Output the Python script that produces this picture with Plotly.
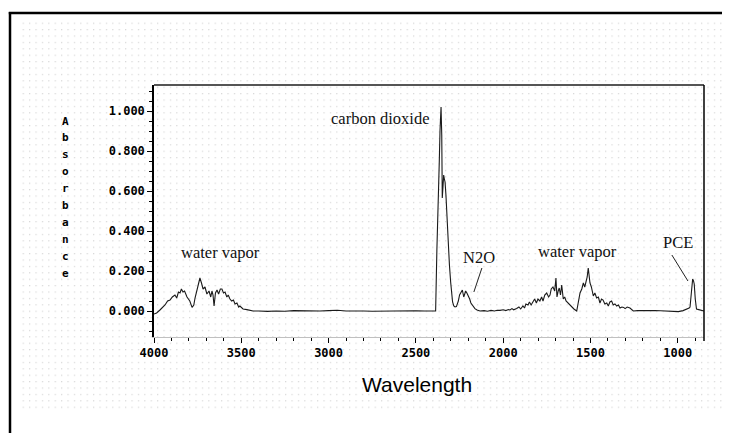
import plotly.graph_objects as go

# ---------------- data ----------------
wavenumber = [
    4000, 3985, 3966, 3950, 3937, 3922, 3908, 3895, 3880, 3870, 3860, 3851, 3843, 3834, 3825,
    3811, 3795, 3782, 3772, 3765, 3750, 3737, 3728, 3719, 3708, 3697, 3685, 3675, 3668, 3662,
    3656, 3648, 3639, 3630, 3620, 3611, 3602, 3593, 3583, 3575, 3565, 3555, 3545, 3536, 3525,
    3515, 3508, 3490, 3468, 3450, 3433, 3400, 3350, 3300, 3250, 3200, 3150, 3100, 3050, 3000,
    2950, 2900, 2850, 2800, 2750, 2700, 2650, 2600, 2550, 2500, 2450, 2400, 2387, 2380, 2372,
    2366, 2362, 2356, 2352, 2349, 2345, 2341, 2337, 2333, 2328, 2322, 2315, 2308, 2301, 2295,
    2290, 2283, 2276, 2268, 2262, 2257, 2250, 2243, 2234, 2226, 2220, 2215, 2208, 2200, 2192,
    2185, 2175, 2162, 2150, 2133, 2110, 2090, 2070, 2050, 2035, 2018, 2000, 1985, 1970, 1961,
    1950, 1940, 1923, 1910, 1900, 1887, 1878, 1870, 1858, 1850, 1840, 1829, 1820, 1810, 1801,
    1790, 1780, 1772, 1762, 1751, 1740, 1732, 1725, 1715, 1705, 1698, 1692, 1685, 1679, 1672,
    1665, 1656, 1648, 1640, 1630, 1618, 1605, 1595, 1579, 1570, 1560, 1550, 1541, 1533, 1526,
    1519, 1513, 1508, 1503, 1495, 1490, 1484, 1475, 1465, 1455, 1446, 1437, 1428, 1418, 1407,
    1398, 1389, 1379, 1370, 1360, 1350, 1340, 1331, 1320, 1310, 1302, 1290, 1274, 1264, 1255,
    1230, 1200, 1160, 1130, 1100, 1064, 1030, 997, 970, 949, 935, 930, 922, 915, 910,
    906, 900, 893, 880, 865, 850,
]
absorbance = [
    -0.015, -0.010, 0.005, 0.020, 0.030, 0.050, 0.055, 0.070, 0.080, 0.065, 0.095, 0.090, 0.110, 0.095, 0.100,
    0.070, 0.050, 0.018, 0.030, 0.065, 0.120, 0.165, 0.140, 0.110, 0.120, 0.085, 0.100, 0.070, 0.100, 0.080,
    0.025, 0.090, 0.105, 0.085, 0.110, 0.110, 0.090, 0.095, 0.070, 0.080, 0.060, 0.050, 0.055, 0.035, 0.040,
    0.020, 0.025, 0.010, 0.007, 0.003, 0.000, 0.000, -0.002, 0.000, -0.001, 0.002, 0.001, 0.003, 0.000, 0.002,
    0.004, 0.000, 0.001, 0.000, -0.001, 0.000, 0.001, -0.001, 0.000, 0.001, 0.000, -0.001, 0.000, 0.300, 0.500,
    0.750, 0.900, 1.020, 0.880, 0.565, 0.620, 0.680, 0.660, 0.645, 0.580, 0.450, 0.330, 0.230, 0.145, 0.080,
    0.045, 0.025, 0.020, 0.022, 0.035, 0.050, 0.080, 0.095, 0.105, 0.070, 0.095, 0.100, 0.090, 0.078, 0.060,
    0.040, 0.025, 0.012, 0.005, 0.000, 0.002, -0.001, 0.003, 0.000, 0.004, 0.003, 0.006, 0.002, 0.007, 0.005,
    0.012, 0.006, 0.013, 0.020, 0.010, 0.025, 0.015, 0.035, 0.030, 0.045, 0.030, 0.045, 0.060, 0.040, 0.060,
    0.050, 0.070, 0.050, 0.080, 0.090, 0.070, 0.080, 0.110, 0.120, 0.100, 0.165, 0.070, 0.100, 0.115, 0.080,
    0.130, 0.060, 0.070, 0.050, 0.040, 0.030, 0.020, 0.010, 0.000, 0.040, 0.090, 0.110, 0.140, 0.120, 0.150,
    0.170, 0.215, 0.160, 0.140, 0.120, 0.090, 0.075, 0.090, 0.065, 0.070, 0.040, 0.060, 0.055, 0.035, 0.040,
    0.025, 0.045, 0.050, 0.030, 0.035, 0.025, 0.030, 0.015, 0.020, 0.018, 0.012, 0.020, 0.015, 0.008, 0.000,
    0.002, 0.003, 0.003, 0.002, 0.001, 0.000, -0.002, -0.003, 0.002, 0.008, 0.015, 0.020, 0.090, 0.160, 0.150,
    0.135, 0.060, 0.010, 0.007, 0.005, 0.000,
]

x_tick_vals = [4000, 3500, 3000, 2500, 2000, 1500, 1000]
x_tick_text = ["4000", "3500", "3000", "2500", "2000", "1500", "1000"]
y_tick_vals = [0.0, 0.2, 0.4, 0.6, 0.8, 1.0]
y_tick_text = ["0.000", "0.200", "0.400", "0.600", "0.800", "1.000"]

labels = ["carbon dioxide", "water vapor", "N2O", "water vapor", "PCE"]
label_x = [2700, 3622, 2139, 1577, 999]
label_y = [0.965, 0.295, 0.2675, 0.30, 0.3425]

x_title = "Wavelength"
y_title = "Absorbance"

# ---------------- figure ----------------
OFF = 8                      # page body margin of the browser
W, H = 730 - OFF, 433 - OFF
L, R, T, B = 154 - OFF, 26, 85 - OFF, 96
PW, PH = W - L - R, H - T - B

def px(x):                    # screen pixel -> paper fraction
    return (x - OFF - L) / PW

def py(y):
    return (H - B - (y - OFF)) / PH

fig = go.Figure()
fig.add_trace(go.Scatter(
    x=wavenumber, y=absorbance, mode="lines",
    line=dict(color="#1a1a1a", width=1.1), hoverinfo="skip", showlegend=False,
))

tick_font = dict(family="DejaVu Sans Mono", size=12, color="black", weight="bold")
serif = dict(family="Liberation Serif, Times New Roman, serif", size=16.5, color="#111")

fig.update_xaxes(
    range=[4000, 850], tickmode="array", tickvals=x_tick_vals, ticktext=x_tick_text,
    ticks="outside", ticklen=5, tickwidth=1, tickcolor="black",
    minor=dict(dtick=100, ticks="outside", ticklen=3, tickcolor="black", tickwidth=1, showgrid=False),
    showgrid=False, zeroline=False, showline=True, linecolor="#c0c0c0", linewidth=1,
    tickfont=tick_font,
)
fig.update_yaxes(
    range=[-0.13, 1.13], tickmode="array", tickvals=y_tick_vals, ticktext=y_tick_text,
    ticks="outside", ticklen=5, tickwidth=1, tickcolor="black",
    minor=dict(dtick=0.05, ticks="outside", ticklen=3, tickcolor="black", tickwidth=1, showgrid=False),
    showgrid=False, zeroline=False, showline=True, linecolor="black", linewidth=1.5,
    tickfont=tick_font,
)

annotations = []
for t, x, y in zip(labels, label_x, label_y):
    annotations.append(dict(x=x, y=y, xref="x", yref="y", text=t, showarrow=False,
                            font=serif, xanchor="center", yanchor="middle"))
annotations.append(dict(x=px(417), y=py(384), xref="paper", yref="paper", text=x_title,
                        showarrow=False, xanchor="center", yanchor="middle",
                        font=dict(family="Liberation Sans, Arial, sans-serif", size=21, color="black")))
for i, ch in enumerate(y_title):
    annotations.append(dict(x=px(65), y=py(121 + i * 16.9), xref="paper", yref="paper", text=ch,
                            showarrow=False, xanchor="center", yanchor="middle",
                            font=dict(family="DejaVu Sans Mono", size=11, color="black", weight="bold")))

shapes = [
    # outer frame (top and left edges; the others fall outside the picture)
    dict(type="line", xref="paper", yref="paper", x0=px(8.8), x1=px(760), y0=py(13), y1=py(13),
         line=dict(color="black", width=2.5), layer="above"),
    dict(type="line", xref="paper", yref="paper", x0=px(10), x1=px(10), y0=py(12), y1=py(470),
         line=dict(color="black", width=2.5), layer="above"),
    # plot top border
    dict(type="line", xref="paper", yref="paper", x0=0, x1=1, y0=1, y1=1,
         line=dict(color="#555555", width=2)),
    # plot right border
    dict(type="line", xref="paper", yref="paper", x0=1, x1=1, y0=py(341), y1=1,
         line=dict(color="black", width=1.5)),
    # leader lines
    dict(type="line", xref="x", yref="y", x0=2122, y0=0.215, x1=2168, y1=0.095,
         line=dict(color="#222", width=1)),
    dict(type="line", xref="x", yref="y", x0=1034, y0=0.28, x1=942, y1=0.15,
         line=dict(color="#222", width=1)),
]

# dotted background (decorative)
svg = ("<svg xmlns='http://www.w3.org/2000/svg' width='722' height='425'>"
       "<defs><pattern id='d' width='6.4' height='6.4' patternUnits='userSpaceOnUse'>"
       "<rect x='2' y='2' width='1' height='1' fill='%23c4c4c4'/></pattern></defs>"
       "<rect x='14' y='14' width='706' height='390' fill='url(%23d)'/></svg>")
img_src = "data:image/svg+xml;utf8," + svg.replace("<", "%3C").replace(">", "%3E").replace("'", "%27").replace(" ", "%20")

fig.update_layout(
    width=W, height=H, margin=dict(l=L, r=R, t=T, b=B, pad=0),
    paper_bgcolor="white", plot_bgcolor="rgba(0,0,0,0)",
    annotations=annotations, shapes=shapes,
    images=[dict(source=img_src, xref="paper", yref="paper", x=-L / PW, y=1 + T / PH,
                 sizex=W / PW, sizey=H / PH, xanchor="left", yanchor="top",
                 sizing="stretch", layer="below")],
    showlegend=False,
)

fig.write_html("out.html", config={"displayModeBar": False})
